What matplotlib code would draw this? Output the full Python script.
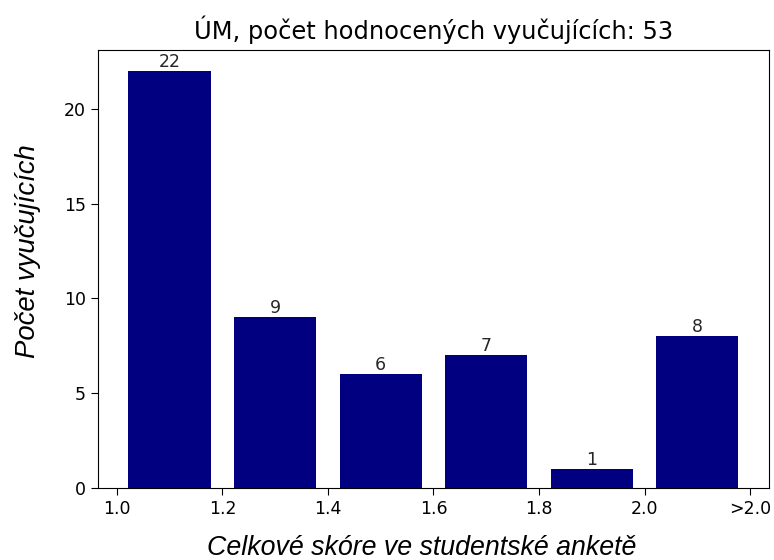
import matplotlib
matplotlib.use("Agg")
import matplotlib.pyplot as plt

centers = [1.1, 1.3, 1.5, 1.7, 1.9, 2.1]
counts = [22, 9, 6, 7, 1, 8]
tick_pos = [1.0, 1.2, 1.4, 1.6, 1.8, 2.0, 2.2]
tick_labels = ["1.0", "1.2", "1.4", "1.6", "1.8", "2.0", ">2.0"]
title = "ÚM, počet hodnocených vyučujících: 53"

fig = plt.figure(figsize=(7.74, 5.6), dpi=100)
ax = fig.add_axes([0.1266, 0.1286, 0.8669, 0.7821])

bars = ax.bar(centers, counts, width=0.156, color="navy")
for b, c in zip(bars, counts):
    ax.text(b.get_x() + b.get_width() / 2, c, str(c), ha="center", va="bottom",
            fontsize=12.5, color="#262626")

ax.set_xticks(tick_pos)
ax.set_xticklabels(tick_labels)
ax.set_yticks([0, 5, 10, 15, 20])
ax.tick_params(labelsize=12.5, length=5)

ax.set_title(title, fontsize=17.4, pad=8)
ax.set_xlabel("Celkové skóre ve studentské anketě", fontsize=19.3,
              fontstyle="italic", family="Liberation Sans", va="center")
ax.set_ylabel("Počet vyučujících", fontsize=19.8,
              fontstyle="italic", family="Liberation Sans", va="center")
ax.xaxis.set_label_coords(0.483, -0.138)
ax.yaxis.set_label_coords(-0.104, 0.541)

fig.savefig("out.png", dpi=100)
